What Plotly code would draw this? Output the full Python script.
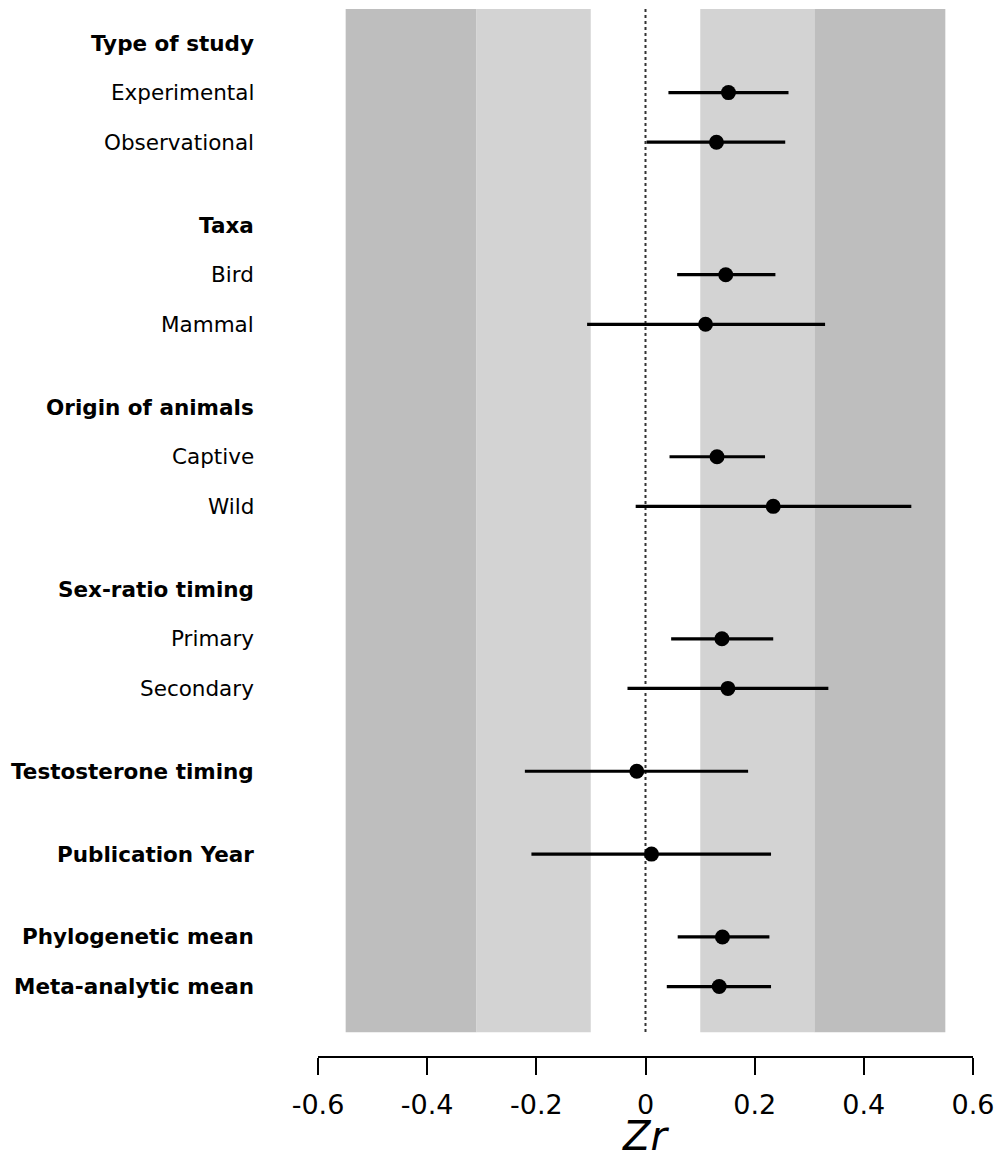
import plotly.graph_objects as go

# ---- data ----
row_labels = ["Type of study", "Experimental", "Observational",
              "Taxa", "Bird", "Mammal",
              "Origin of animals", "Captive", "Wild",
              "Sex-ratio timing", "Primary", "Secondary",
              "Testosterone timing", "Publication Year",
              "Phylogenetic mean", "Meta-analytic mean"]
row_kind = ["header", "item", "item",
            "header", "item", "item",
            "header", "item", "item",
            "header", "item", "item",
            "summary", "summary",
            "summary", "summary"]
row_group = [0, 0, 0, 1, 1, 1, 2, 2, 2, 3, 3, 3, 4, 5, 6, 6]
zr_mean = [None, 0.152, 0.130, None, 0.147, 0.110, None, 0.131, 0.234,
           None, 0.140, 0.151, -0.016, 0.011, 0.141, 0.135]
ci_low = [None, 0.042, 0.002, None, 0.058, -0.107, None, 0.044, -0.018,
          None, 0.047, -0.033, -0.221, -0.209, 0.059, 0.039]
ci_high = [None, 0.262, 0.256, None, 0.238, 0.329, None, 0.219, 0.487,
           None, 0.234, 0.335, 0.188, 0.230, 0.227, 0.230]
# effect-size thresholds (Zr for r = 0.1, 0.3, 0.5)
band_edges = [0.1003, 0.3095, 0.5493]
x_ticks = [-0.6, -0.4, -0.2, 0, 0.2, 0.4, 0.6]
x_tick_labels = ["-0.6", "-0.4", "-0.2", "0", "0.2", "0.4", "0.6"]

# ---- layout of rows ----
GROUP_GAP = 1.67
ypos = []
y = 0.0
for i, g in enumerate(row_group):
    if i > 0:
        y += 1.0 if g == row_group[i - 1] else GROUP_GAP
    ypos.append(y)

Y_TOP = -0.6855
Y_BOT = 20.42
BAND_BOT = 19.94

FONT = "DejaVu Sans, Arial, sans-serif"
fig = go.Figure()

small, medium, large = band_edges
shapes = []
for x0, x1, col in [(-large, -medium, "#BEBEBE"), (-medium, -small, "#D3D3D3"),
                    (small, medium, "#D3D3D3"), (medium, large, "#BEBEBE")]:
    shapes.append(dict(type="rect", xref="x", yref="y", x0=x0, x1=x1,
                       y0=Y_TOP, y1=BAND_BOT, fillcolor=col,
                       line=dict(width=0), layer="below"))
shapes.append(dict(type="line", xref="x", yref="y", x0=0, x1=0,
                   y0=Y_TOP, y1=BAND_BOT,
                   line=dict(color="#333333", width=2, dash="dot"), layer="below"))

px, py, ep, em = [], [], [], []
for i in range(len(row_labels)):
    if zr_mean[i] is None:
        continue
    px.append(zr_mean[i])
    py.append(ypos[i])
    ep.append(ci_high[i] - zr_mean[i])
    em.append(zr_mean[i] - ci_low[i])

fig.add_trace(go.Scatter(
    x=px, y=py, mode="markers",
    marker=dict(color="black", size=15),
    error_x=dict(type="data", symmetric=False, array=ep, arrayminus=em,
                 thickness=3.2, width=0, color="black"),
    showlegend=False, hoverinfo="skip"))

annotations = []
for i, lab in enumerate(row_labels):
    bold = row_kind[i] in ("header", "summary")
    annotations.append(dict(
        xref="paper", yref="y", x=-0.0939, y=ypos[i],
        text=f"<b>{lab}</b>" if bold else lab,
        showarrow=False, xanchor="right", yanchor="middle",
        font=dict(family=FONT, size=21.5, color="black")))
annotations.append(dict(
    xref="paper", yref="paper", x=0.5, y=-(1136 - 1056) / 1047,
    text="<i>Zr</i>", showarrow=False, xanchor="center", yanchor="middle",
    font=dict(family=FONT, size=40, color="black")))

fig.update_layout(
    width=1003, height=1150,
    margin=dict(l=318, r=25, t=9, b=94, pad=0),
    plot_bgcolor="white", paper_bgcolor="white",
    shapes=shapes, annotations=annotations,
    xaxis=dict(range=[-0.6, 0.6], tickvals=x_ticks, ticktext=x_tick_labels,
               showgrid=False, zeroline=False, showline=True,
               linecolor="black", linewidth=2, ticks="outside", ticklen=17,
               tickwidth=2, tickcolor="black", ticklabelstandoff=7,
               tickfont=dict(family=FONT, size=27, color="black")),
    yaxis=dict(range=[Y_BOT, Y_TOP], showgrid=False, zeroline=False,
               showticklabels=False, showline=False, ticks=""),
)

fig.write_html("out.html",
               config={"displayModeBar": False},
               post_script="document.body.style.margin='0';"
                           "document.body.style.overflow='hidden';")
